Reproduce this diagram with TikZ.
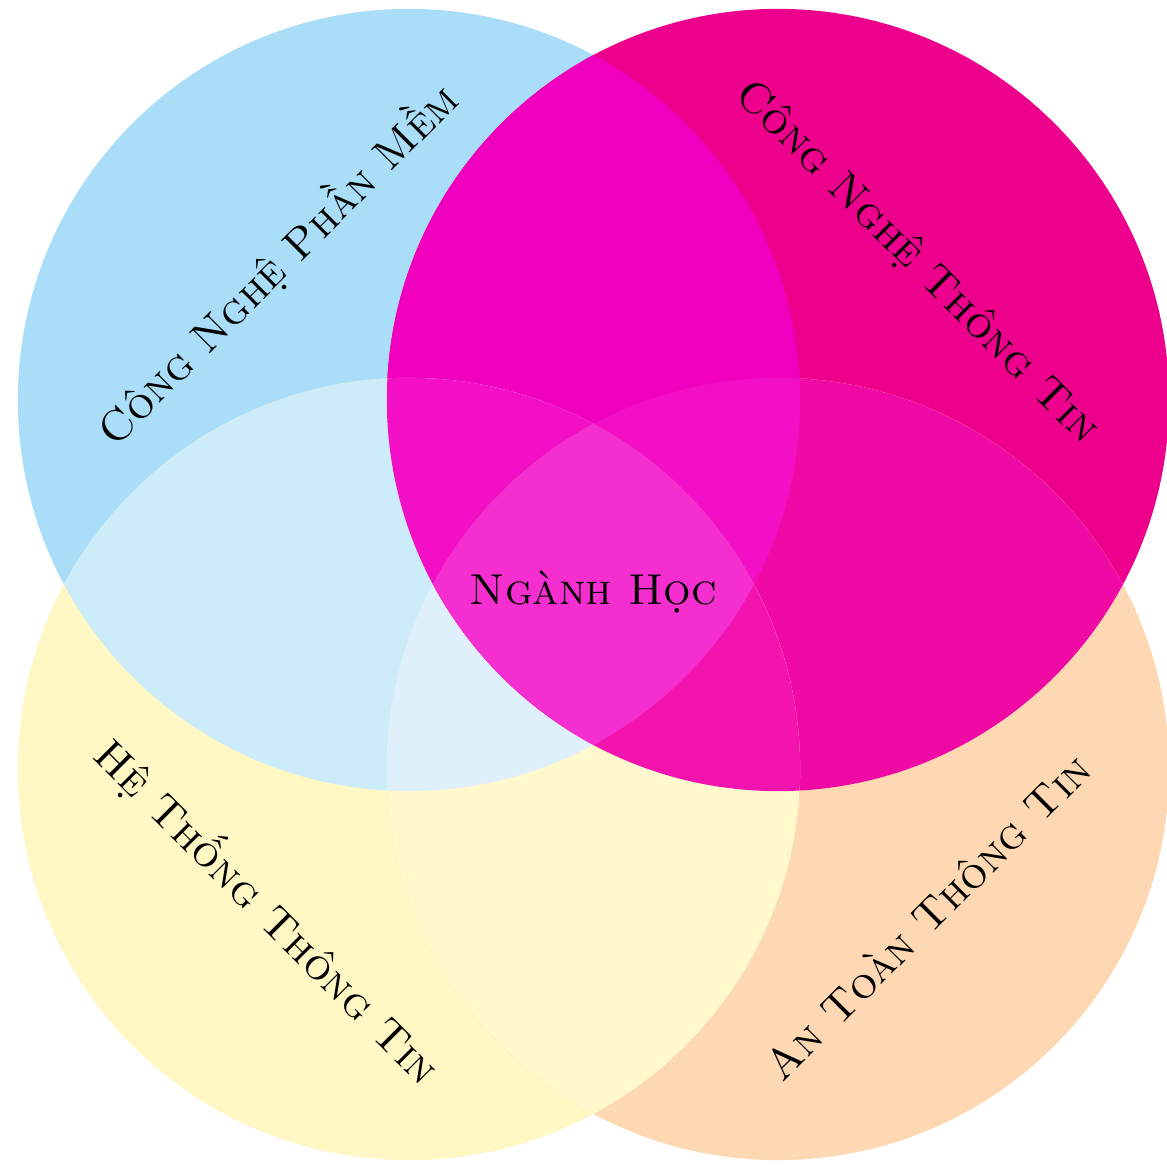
\documentclass[tikz,border=0pt]{standalone}
\usepackage{fontspec}
\usepackage{xcolor}
\usepackage{tikz}

% mau cua tung vung
\definecolor{cB}{HTML}{AADEF8}
\definecolor{cM}{HTML}{EC008C}
\definecolor{cY}{HTML}{FFF7C4}
\definecolor{cO}{HTML}{FDD8B2}
\definecolor{cBM}{HTML}{F000BE}
\definecolor{cBY}{HTML}{CDECF9}
\definecolor{cMO}{HTML}{F00AA5}
\definecolor{cYO}{HTML}{FFF9CD}
\definecolor{cBMY}{HTML}{F20FC6}
\definecolor{cBMO}{HTML}{F20FC5}
\definecolor{cBYO}{HTML}{E0F0FA}
\definecolor{cMYO}{HTML}{F314B0}
\definecolor{cBMYO}{HTML}{F52ECF}

\newcommand{\vongB}{(0,0) circle (3.18)}
\newcommand{\vongM}{(3,0) circle (3.18)}
\newcommand{\vongY}{(0,-3) circle (3.18)}
\newcommand{\vongO}{(3,-3) circle (3.18)}

\begin{document}
\begin{tikzpicture}[nhan/.style={font=\scshape, text=black}]
            \useasboundingbox (-3.325, 3.252) rectangle (6.163, -6.22);

            \fill[cB] \vongB;
            \fill[cM] \vongM;
            \fill[cY] \vongY;
            \fill[cO] \vongO;

            % hai vong
            \begin{scope} \clip \vongB; \fill[cBM] \vongM; \end{scope}
            \begin{scope} \clip \vongB; \fill[cBY] \vongY; \end{scope}
            \begin{scope} \clip \vongM; \fill[cMO] \vongO; \end{scope}
            \begin{scope} \clip \vongY; \fill[cYO] \vongO; \end{scope}

            % ba vong
            \begin{scope} \clip \vongB; \clip \vongM; \fill[cBMY] \vongY; \end{scope}
            \begin{scope} \clip \vongB; \clip \vongM; \fill[cBMO] \vongO; \end{scope}
            \begin{scope} \clip \vongB; \clip \vongY; \fill[cBYO] \vongO; \end{scope}
            \begin{scope} \clip \vongM; \clip \vongY; \fill[cMYO] \vongO; \end{scope}

            % bon vong
            \begin{scope} \clip \vongB; \clip \vongM; \clip \vongY; \fill[cBMYO] \vongO; \end{scope}

            \node[nhan, rotate=45] (cnpm) at (-1.07, 1.10) {Công Nghệ Phần Mềm};
            \node[nhan, rotate=-45] (cntt) at (4.13, 1.12) {Công Nghệ Thông Tin};
            \node[nhan, rotate=-45] (httt) at (-1.15, -4.16) {Hệ Thống Thông Tin};
            \node[nhan, rotate=45] (attt) at (4.21, -4.20) {An Toàn Thông Tin};
            \node[nhan] (nganh) at (1.5, -1.56) {Ngành Học};
        \end{tikzpicture}
\end{document}
